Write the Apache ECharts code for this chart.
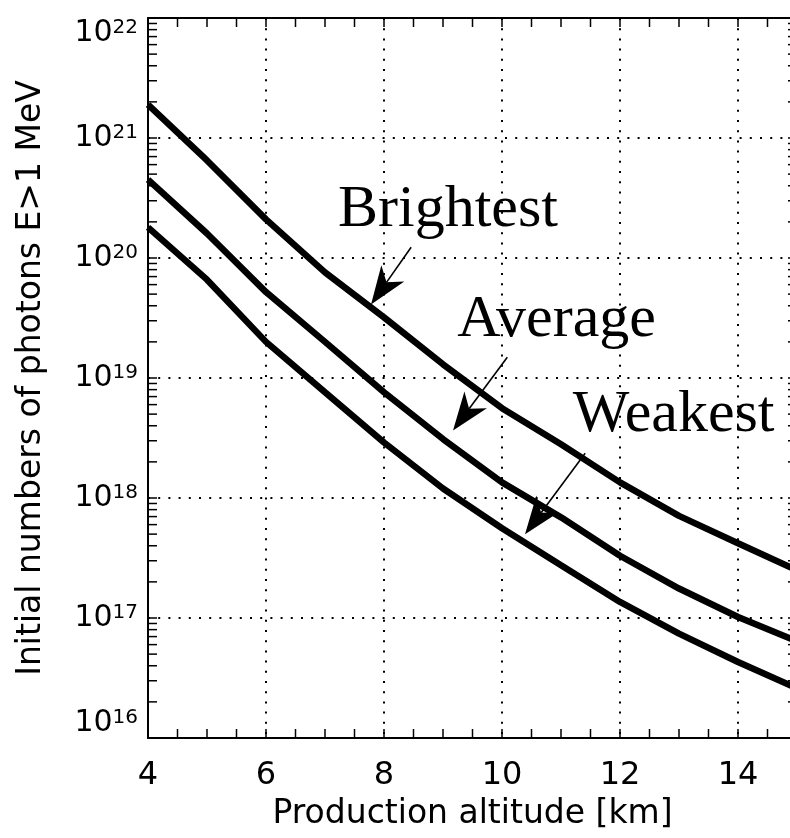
<!DOCTYPE html>
<html>
<head>
<meta charset="utf-8">
<script src="https://cdn.jsdelivr.net/npm/echarts@6/dist/echarts.min.js"></script>
<style>
html, body { margin: 0; padding: 0; overflow: hidden; background: #fff; }
#chart { width: 797px; height: 838px; }
</style>
</head>
<body>
<div id="chart"></div>
<script>
// 数据: 高度 (km) 与三条曲线
var altitude  = [4, 5, 6, 7, 8, 9, 10, 11, 12, 13, 14, 15];
var brightest = [1.9e21, 6.5e20, 2.1e20, 7.6e19, 3.2e19, 1.3e19, 5.6e18, 2.8e18, 1.35e18, 7.1e17, 4.2e17, 2.5e17];
var average   = [4.5e20, 1.6e20, 5.2e19, 2.0e19, 7.6e18, 3.1e18, 1.35e18, 6.9e17, 3.3e17, 1.76e17, 1.02e17, 6.4e16];
var weakest   = [1.8e20, 6.6e19, 2.0e19, 7.6e18, 2.9e18, 1.2e18, 5.6e17, 2.75e17, 1.36e17, 7.4e16, 4.3e16, 2.6e16];

// 次刻度
var xMinorTicks = [4.5, 5, 5.5, 6.5, 7, 7.5, 8.5, 9, 9.5, 10.5, 11, 11.5, 12.5, 13, 13.5, 14.5];
var yMantissas = [2, 3, 4, 5, 6, 7, 8, 9];
var yDecades = [16, 17, 18, 19, 20, 21];

// 标注文字与箭头 (数据坐标)
var notes = [
  { text: 'Brightest', at: [7.22, 2.5e20], from: [8.46, 1.23e20], to: [7.78, 4.1e19] },
  { text: 'Average',   at: [9.24, 3.03e19], from: [10.09, 1.49e19], to: [9.17, 3.66e18] },
  { text: 'Weakest',   at: [11.2, 4.89e18], from: [11.41, 2.36e18], to: [10.39, 4.98e17] }
];

var sans = 'DejaVu Sans';
var black = '#000';
var yMinorTicks = [];
yDecades.forEach(function (d) {
  yMantissas.forEach(function (m) { yMinorTicks.push(m * Math.pow(10, d)); });
});

function pairs(ys) {
  return altitude.map(function (x, i) { return [x, ys[i]]; });
}

var myChart = echarts.init(document.getElementById('chart'));

var dotted = { type: [2, 8.2], color: black, width: 2 };
var tickStyle = { color: black, width: 1.5 };

function curve(name, ys) {
  return {
    name: name,
    type: 'line',
    data: pairs(ys),
    showSymbol: false,
    symbol: 'none',
    lineStyle: { color: black, width: 6.5 },
    z: 5
  };
}

var option = {
  animation: false,
  backgroundColor: '#fff',
  grid: { left: 148, right: 0, top: 18, bottom: 100, outerBoundsMode: 'none' },
  xAxis: [{
    type: 'value', min: 4, max: 15, interval: 2, position: 'bottom',
    axisLine: { lineStyle: { color: black, width: 2 } },
    axisTick: { inside: true, length: 9, lineStyle: tickStyle },
    axisLabel: { color: black, fontSize: 32, fontFamily: sans, margin: 22, showMaxLabel: false },
    splitLine: { show: true, lineStyle: dotted },
    name: 'Production altitude [km]', nameLocation: 'middle', nameGap: 60,
    nameTextStyle: { color: black, fontSize: 33, fontFamily: sans }
  }, {
    type: 'value', min: 4, max: 15, interval: 2, position: 'top',
    axisLine: { lineStyle: { color: black, width: 2 } },
    axisTick: { inside: true, length: 9, lineStyle: tickStyle },
    axisLabel: { show: false },
    splitLine: { show: false }
  }],
  yAxis: [{
    type: 'log', logBase: 10, min: 1e16, max: 1e22, position: 'left',
    axisLine: { lineStyle: { color: black, width: 2 } },
    axisTick: { inside: true, length: 9, lineStyle: tickStyle },
    axisLabel: {
      margin: 10,
      verticalAlignMaxLabel: 'top',
      verticalAlignMinLabel: 'bottom',
      formatter: function (v) {
        return '{a|10}{b|' + Math.round(Math.log10(v)) + '}';
      },
      rich: {
        a: { fontSize: 30, fontFamily: sans, color: black, verticalAlign: 'bottom', padding: [5, 0, 0, 0], lineHeight: 30 },
        b: { fontSize: 20, fontFamily: sans, color: black, verticalAlign: 'top', lineHeight: 20 }
      }
    },
    splitLine: { show: true, lineStyle: dotted },
    name: 'Initial numbers of photons E>1 MeV', nameLocation: 'middle', nameGap: 100,
    nameTextStyle: { color: black, fontSize: 33, fontFamily: sans }
  }, {
    type: 'log', logBase: 10, min: 1e16, max: 1e22, position: 'right',
    axisLine: { lineStyle: { color: black, width: 2 } },
    axisTick: { inside: true, length: 9, lineStyle: tickStyle },
    axisLabel: { show: false },
    splitLine: { show: false }
  }],
  series: [
    curve('Brightest', brightest),
    curve('Average', average),
    curve('Weakest', weakest),
    {
      // x 轴次刻度 (上下)
      type: 'custom', silent: true, z: 4,
      data: xMinorTicks.map(function (v) { return [v, 1e16]; }),
      renderItem: function (params, api) {
        var p = api.coord([api.value(0), 1e16]);
        var cs = params.coordSys;
        return { type: 'group', children: [
          { type: 'line', shape: { x1: p[0], y1: cs.y + cs.height, x2: p[0], y2: cs.y + cs.height - 9 }, style: { stroke: black, lineWidth: 1.5 } },
          { type: 'line', shape: { x1: p[0], y1: cs.y, x2: p[0], y2: cs.y + 9 }, style: { stroke: black, lineWidth: 1.5 } }
        ] };
      }
    },
    {
      // y 轴次刻度 (左右)
      type: 'custom', silent: true, z: 4,
      data: yMinorTicks.map(function (v) { return [4, v]; }),
      renderItem: function (params, api) {
        var p = api.coord([4, api.value(1)]);
        var cs = params.coordSys;
        return { type: 'group', children: [
          { type: 'line', shape: { x1: cs.x, y1: p[1], x2: cs.x + 9, y2: p[1] }, style: { stroke: black, lineWidth: 1.5 } },
          { type: 'line', shape: { x1: cs.x + cs.width, y1: p[1], x2: cs.x + cs.width - 9, y2: p[1] }, style: { stroke: black, lineWidth: 1.5 } }
        ] };
      }
    }
  ]
};

myChart.setOption(option);

// 标注: 文字 + 箭头
var graphics = [];
notes.forEach(function (n) {
  var t = myChart.convertToPixel({ xAxisIndex: 0, yAxisIndex: 0 }, n.at);
  var a = myChart.convertToPixel({ xAxisIndex: 0, yAxisIndex: 0 }, n.from);
  var b = myChart.convertToPixel({ xAxisIndex: 0, yAxisIndex: 0 }, n.to);
  var dx = b[0] - a[0], dy = b[1] - a[1];
  var len = Math.sqrt(dx * dx + dy * dy);
  var ux = dx / len, uy = dy / len;
  var headLen = 38, halfW = 14, notch = 27;
  var base = [b[0] - ux * headLen, b[1] - uy * headLen];
  var back = [b[0] - ux * notch, b[1] - uy * notch];
  graphics.push({
    type: 'text', x: t[0], y: t[1], z: 10,
    style: { text: n.text, fill: black, font: '60px "Liberation Serif", "Times New Roman", serif', align: 'left', verticalAlign: 'middle' }
  });
  graphics.push({
    type: 'line', z: 10,
    shape: { x1: a[0], y1: a[1], x2: back[0], y2: back[1] },
    style: { stroke: black, lineWidth: 1.6 }
  });
  graphics.push({
    type: 'polygon', z: 10,
    shape: { points: [b, [base[0] - uy * halfW, base[1] + ux * halfW], back, [base[0] + uy * halfW, base[1] - ux * halfW]] },
    style: { fill: black }
  });
});
myChart.setOption({ graphic: graphics });
</script>
</body>
</html>
